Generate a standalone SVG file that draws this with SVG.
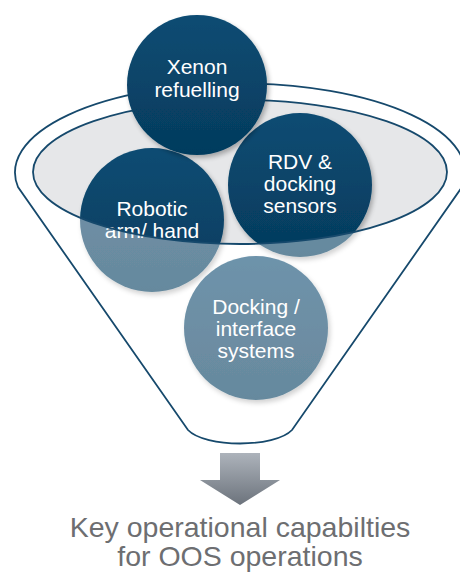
<svg xmlns="http://www.w3.org/2000/svg" width="460" height="573" viewBox="0 0 460 573">
  <defs>
    <linearGradient id="gDark" x1="0" y1="0" x2="0" y2="1">
      <stop offset="0" stop-color="#0b4c73"/>
      <stop offset="1" stop-color="#053b5d"/>
    </linearGradient>
    <linearGradient id="gArrow" x1="0" y1="0" x2="0" y2="1">
      <stop offset="0" stop-color="#adb3bb"/>
      <stop offset="1" stop-color="#6c737c"/>
    </linearGradient>
    <filter id="sh" x="-20%" y="-20%" width="150%" height="150%">
      <feGaussianBlur in="SourceAlpha" stdDeviation="2.5"/>
      <feOffset dx="1.5" dy="3" result="b"/>
      <feComponentTransfer><feFuncA type="linear" slope="0.3"/></feComponentTransfer>
      <feMerge><feMergeNode/><feMergeNode in="SourceGraphic"/></feMerge>
    </filter>
    <style>
      .circ { fill: url(#gDark); filter: url(#sh); }
      .lbl { font-family: "Liberation Sans", Arial, sans-serif; font-size: 21px; fill: #ffffff; text-anchor: middle; }
      .edge { fill: none; stroke: #16496c; stroke-width: 1.8; }
      .cap { font-family: "Liberation Sans", Arial, sans-serif; font-size: 28.5px; fill: #6d6e71; text-anchor: middle; }
    </style>
  </defs>
  <rect width="460" height="573" fill="#ffffff"/>

  <g id="funnel-back">
    <ellipse cx="240" cy="172" rx="207" ry="72" fill="#e6e7e9"/>
  </g>

  <g id="node-robotic">
    <circle class="circ" cx="152" cy="220" r="72"/>
    <text class="lbl" x="152" y="216">Robotic</text>
    <text class="lbl" x="152" y="238">arm/ hand</text>
  </g>
  <g id="node-rdv">
    <circle class="circ" cx="300" cy="185" r="72"/>
    <text class="lbl" x="300" y="169">RDV &amp;</text>
    <text class="lbl" x="300" y="191">docking</text>
    <text class="lbl" x="300" y="213">sensors</text>
  </g>
  <g id="node-docking">
    <circle class="circ" cx="256" cy="328" r="72"/>
    <text class="lbl" x="256" y="314">Docking /</text>
    <text class="lbl" x="256" y="336">interface</text>
    <text class="lbl" x="256" y="358">systems</text>
  </g>

  <g id="funnel-front">
    <path fill="#ffffff" fill-opacity="0.4" fill-rule="evenodd"
      d="M18,187 A225,89 0 1 1 462,187 L292,430 C275,448 205,448 188,430 Z M33,172 A207,72 0 1 0 447,172 A207,72 0 1 0 33,172 Z"/>
    <path class="edge" d="M18,187 A225,89 0 1 1 462,187 L292,430 C275,448 205,448 188,430 Z"/>
    <ellipse class="edge" cx="240" cy="172" rx="207" ry="72"/>
  </g>

  <g id="node-xenon">
    <circle class="circ" cx="197" cy="85" r="70"/>
    <text class="lbl" x="197" y="74">Xenon</text>
    <text class="lbl" x="197" y="97">refuelling</text>
  </g>

  <g id="connectors">
    <path d="M220,453 L260,453 L260,480 L280,480 L240,505 L200,480 L220,480 Z" fill="url(#gArrow)"/>
  </g>

  <g id="caption">
    <text class="cap" x="240" y="537">Key operational capabilties</text>
    <text class="cap" x="240" y="566">for OOS operations</text>
  </g>
</svg>
